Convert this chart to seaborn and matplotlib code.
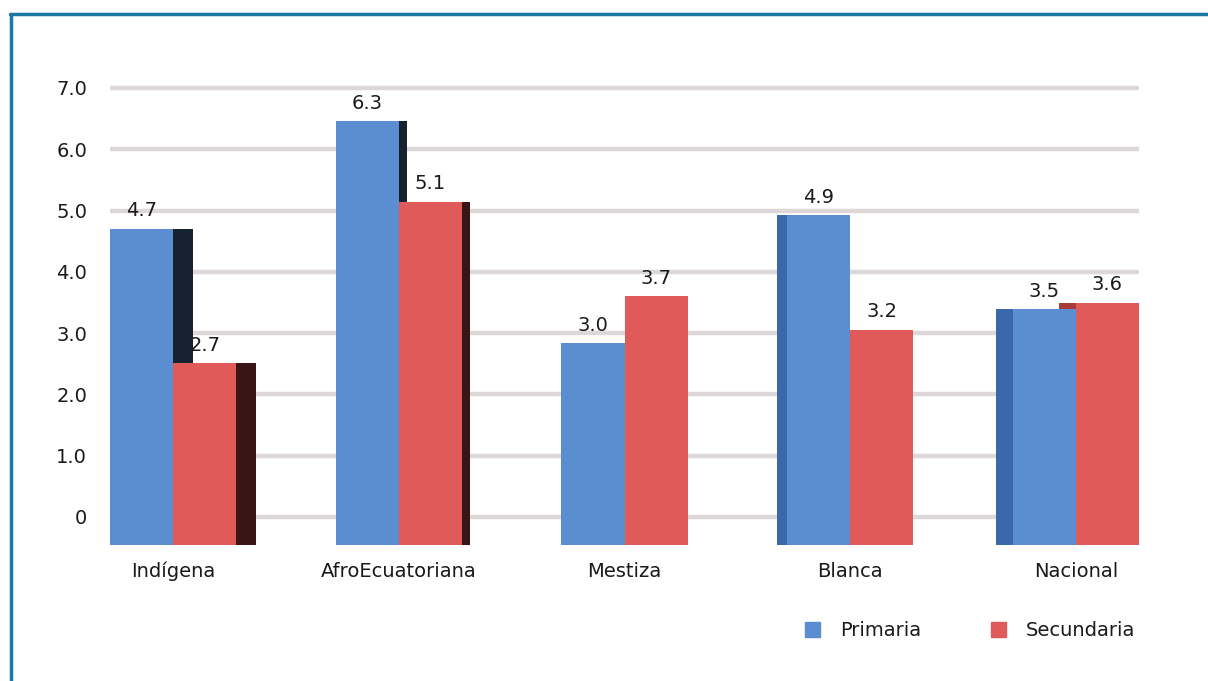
import numpy as np
import pandas as pd
import matplotlib
matplotlib.use("Agg")
import matplotlib.pyplot as plt
import seaborn as sns
from matplotlib.patches import Rectangle
from matplotlib.lines import Line2D

# ---- data ----
categories = ["Indígena", "AfroEcuatoriana", "Mestiza", "Blanca", "Nacional"]
primaria = [4.7, 6.3, 3.0, 4.9, 3.5]
secundaria = [2.7, 5.1, 3.7, 3.2, 3.6]
series_names = ["Primaria", "Secundaria"]
yticks = [0, 1, 2, 3, 4, 5, 6, 7]
ytick_labels = ["0", "1.0", "2.0", "3.0", "4.0", "5.0", "6.0", "7.0"]

df = pd.DataFrame({
    "grupo": categories * 2,
    "nivel": [series_names[0]] * len(categories) + [series_names[1]] * len(categories),
    "valor": primaria + secundaria,
})

BLUE = "#5a8ed0"
RED = "#e05a5a"
GRID = "#ddd7d7"
FRAME = "#1a78a2"
TXT = "#1a1a1a"
FS = 14

sns.set_theme(style="white")
plt.rcParams["font.family"] = ["DejaVu Sans"]

W, H = 1208, 681
fig = plt.figure(figsize=(W / 100, H / 100), dpi=100)
fig.patch.set_facecolor("white")


def fx(px):
    return px / W


def fy(py):
    return 1 - py / H


# ---- back wall: gridlines + y labels ----
ppu = (517 - 88) / 7.0
pad_u = 0.1
ax = fig.add_axes([fx(110), fy(517 + pad_u * ppu),
                   fx(1139) - fx(110), fy(88 - pad_u * ppu) - fy(517 + pad_u * ppu)])
ax.set_ylim(-pad_u, 7 + pad_u)
ax.set_xlim(0, 1)
ax.set_yticks(yticks)
ax.set_yticklabels(ytick_labels)
ax.set_xticks([])
ax.yaxis.grid(True, color=GRID, lw=3.2)
for s in ax.spines.values():
    s.set_visible(False)
ax.tick_params(axis="y", length=0, pad=16.5, labelsize=FS, labelcolor=TXT)
ax.set_facecolor("white")

# ---- front: bars ----
bppu = 67.3
bax = fig.add_axes([fx(110), fy(545), fx(1139) - fx(110), fy(545 - 7 * bppu) - fy(545)])
bax.patch.set_alpha(0)
sns.barplot(data=df, x="grupo", y="valor", hue="nivel", order=categories,
            hue_order=series_names, palette=[BLUE, RED], width=0.56, gap=0,
            saturation=1, legend=False, ax=bax, zorder=3, linewidth=0)
bax.set_xlim(-0.28, 4.28)
bax.set_ylim(0, 7)
bax.set_xlabel("")
bax.set_ylabel("")
bax.set_yticks([])
for s in bax.spines.values():
    s.set_visible(False)
bax.tick_params(axis="x", length=0, pad=12, labelsize=FS, labelcolor=TXT)

# depth sides (style only) derived from the drawn bars
px_to_data = 4.56 / (1139 - 110)
side_px = [20, 8, 0, 10, 17]
side_dir = [1, 1, 0, -1, -1]
n = len(categories)
bars = list(bax.patches)[:2 * n]
for i, p in enumerate(bars):
    ci = i % n
    x, w, h = p.get_x(), p.get_width(), p.get_height()
    s = side_px[ci] * px_to_data
    if s == 0:
        continue
    if side_dir[ci] > 0:
        col = "#172230" if i < n else "#3a1515"
        bax.add_patch(Rectangle((x + w, 0), s, h, color=col, lw=0, zorder=2))
    else:
        col = "#3a68aa" if i < n else "#a83a3a"
        bax.add_patch(Rectangle((x - s, 0), s, h, color=col, lw=0, zorder=2))

# value labels
for p in bars:
    h = p.get_height()
    bax.annotate(f"{h:.1f}", (p.get_x() + p.get_width() / 2, h),
                 xytext=(0, 6), textcoords="offset points",
                 ha="center", va="bottom", fontsize=FS, color=TXT,
                 annotation_clip=False)

# legend
handles = [Rectangle((0, 0), 1, 1, color=BLUE), Rectangle((0, 0), 1, 1, color=RED)]
fig.legend(handles, series_names, loc="center", bbox_to_anchor=(fx(970), fy(631)),
           ncol=2, frameon=False, fontsize=FS, handlelength=0.78, handleheight=0.78,
           handletextpad=1.0, columnspacing=3.6, labelcolor=TXT)

# frame
fig.add_artist(Line2D([fx(10), 1], [fy(14), fy(14)], color=FRAME, lw=2.5,
                      transform=fig.transFigure))
fig.add_artist(Line2D([fx(11), fx(11)], [fy(14), 0], color=FRAME, lw=2.5,
                      transform=fig.transFigure))

fig.savefig("out.png", dpi=100)
